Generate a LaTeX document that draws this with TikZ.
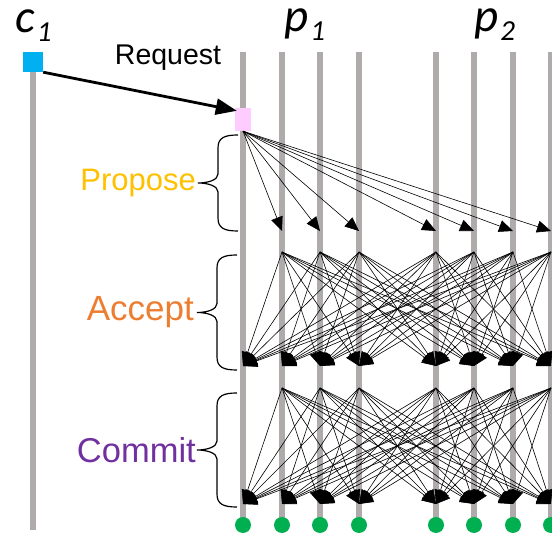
\documentclass[tikz,border=0pt]{standalone}
\usepackage{fontspec}
\setmainfont{Liberation Sans}
\newfontfamily\calibri{Carlito}
\usetikzlibrary{arrows.meta,positioning,calc,backgrounds}
\definecolor{lanegray}{RGB}{175,171,171}
\definecolor{clientblue}{RGB}{0,176,240}
\definecolor{primpink}{RGB}{255,204,255}
\definecolor{donegreen}{RGB}{0,176,80}
\definecolor{proposeyellow}{RGB}{255,192,0}
\definecolor{acceptorange}{RGB}{237,125,49}
\definecolor{commitpurple}{RGB}{112,48,160}

% process name with subscript
\newcommand{\procname}[2]{{\calibri\itshape\fontsize{47}{47}\selectfont #1\kern2pt\raisebox{-9pt}{\fontsize{29}{29}\selectfont #2}}}
% left curly brace: tip name, right x, top y, bottom y
\newcommand{\phasebrace}[4]{%
  \pgfmathsetmacro{\bmid}{(#3+#4)/2}
  \draw[brace] (#2,#3) .. controls (#2-14,#3) and (#2-20,#3+3) .. (#2-20,#3+13)
    -- (#2-20,\bmid-9) .. controls (#2-20,\bmid-3) and (#2-30,\bmid) .. (#2-40,\bmid)
    coordinate (#1)
    .. controls (#2-30,\bmid) and (#2-20,\bmid+3) .. (#2-20,\bmid+9)
    -- (#2-20,#4-13) .. controls (#2-20,#4-3) and (#2-14,#4) .. (#2,#4);
}

\begin{document}
\begin{tikzpicture}[x=1pt, y=-1pt,
    lifeline/.style={draw=lanegray, line width=5.5pt},
    msg/.style={-{Triangle[length=14pt,width=12pt]}, line width=0.6pt},
    request/.style={-{Triangle[length=21pt,width=16pt]}, line width=2.8pt},
    done/.style={circle, fill=donegreen, minimum size=16pt, inner sep=0pt},
    phase/.style={inner sep=0pt},
    brace/.style={line width=1.2pt}]
    \useasboundingbox (0,0) rectangle (552,534);

    % replicas
    \foreach \x [count=\i] in {243,282,320,359,436,474,513,551} {
        \coordinate (top\i) at (\x,52);
        \coordinate (prop\i) at (\x,231);
        \coordinate (accsrc\i) at (\x,252);
        \coordinate (acc\i) at (\x,366);
        \coordinate (comsrc\i) at (\x,388);
        \coordinate (com\i) at (\x,504);
        \node[done] (end\i) at (\x,525) {};
    }
    \coordinate (c1top) at (33,52);
    \coordinate (c1bot) at (33,530);

    \begin{scope}[on background layer]
        \foreach \i in {1,...,8} \draw[lifeline] (top\i) -- (end\i.center);
        \draw[lifeline] (c1top) -- (c1bot);
    \end{scope}

    \node[fill=clientblue, minimum size=20pt, inner sep=0pt] (c1) at (33,62) {};
    \node[fill=primpink, minimum width=16pt, minimum height=23pt, inner sep=0pt] (req) at (243,119.5) {};

    \node[anchor=base west, inner sep=0pt] (c1name) at (15,33) {\procname{c}{1}};
    \node[anchor=base west, inner sep=0pt] (p1name) at (284,32) {\procname{p}{1}};
    \node[anchor=base west, inner sep=0pt] (p2name) at (474,32) {\procname{p}{2}};

    \node[anchor=base, inner sep=0pt, font=\fontsize{28.5}{28.5}\selectfont] (reqtext) at (168,65) {Request};
    \draw[request] (c1.south east) -- ([xshift=2pt,yshift=-3pt]req.north west);

    % propose
    \foreach \t in {2,...,8} \draw[msg] (req.south) -- (prop\t);
    % accept and commit
    \foreach \s in {2,...,8} {
        \foreach \t in {1,...,8} {
            \ifnum\s=\t\else
                \draw[msg] (accsrc\s) -- (acc\t);
                \draw[msg] (comsrc\s) -- (com\t);
            \fi
        }
    }

    \phasebrace{ptip}{238}{135}{231}
    \phasebrace{atip}{237}{255}{370}
    \phasebrace{ctip}{237}{393}{507}
    \node[phase, font=\fontsize{31}{31}\selectfont, text=proposeyellow, left=2pt of ptip] (propose) {Propose};
    \node[phase, font=\fontsize{35}{35}\selectfont, text=acceptorange, left=3pt of atip] (accept) {Accept};
    \node[phase, font=\fontsize{34.5}{34.5}\selectfont, text=commitpurple, left=1pt of ctip] (commit) {Commit};
\end{tikzpicture}
\end{document}
